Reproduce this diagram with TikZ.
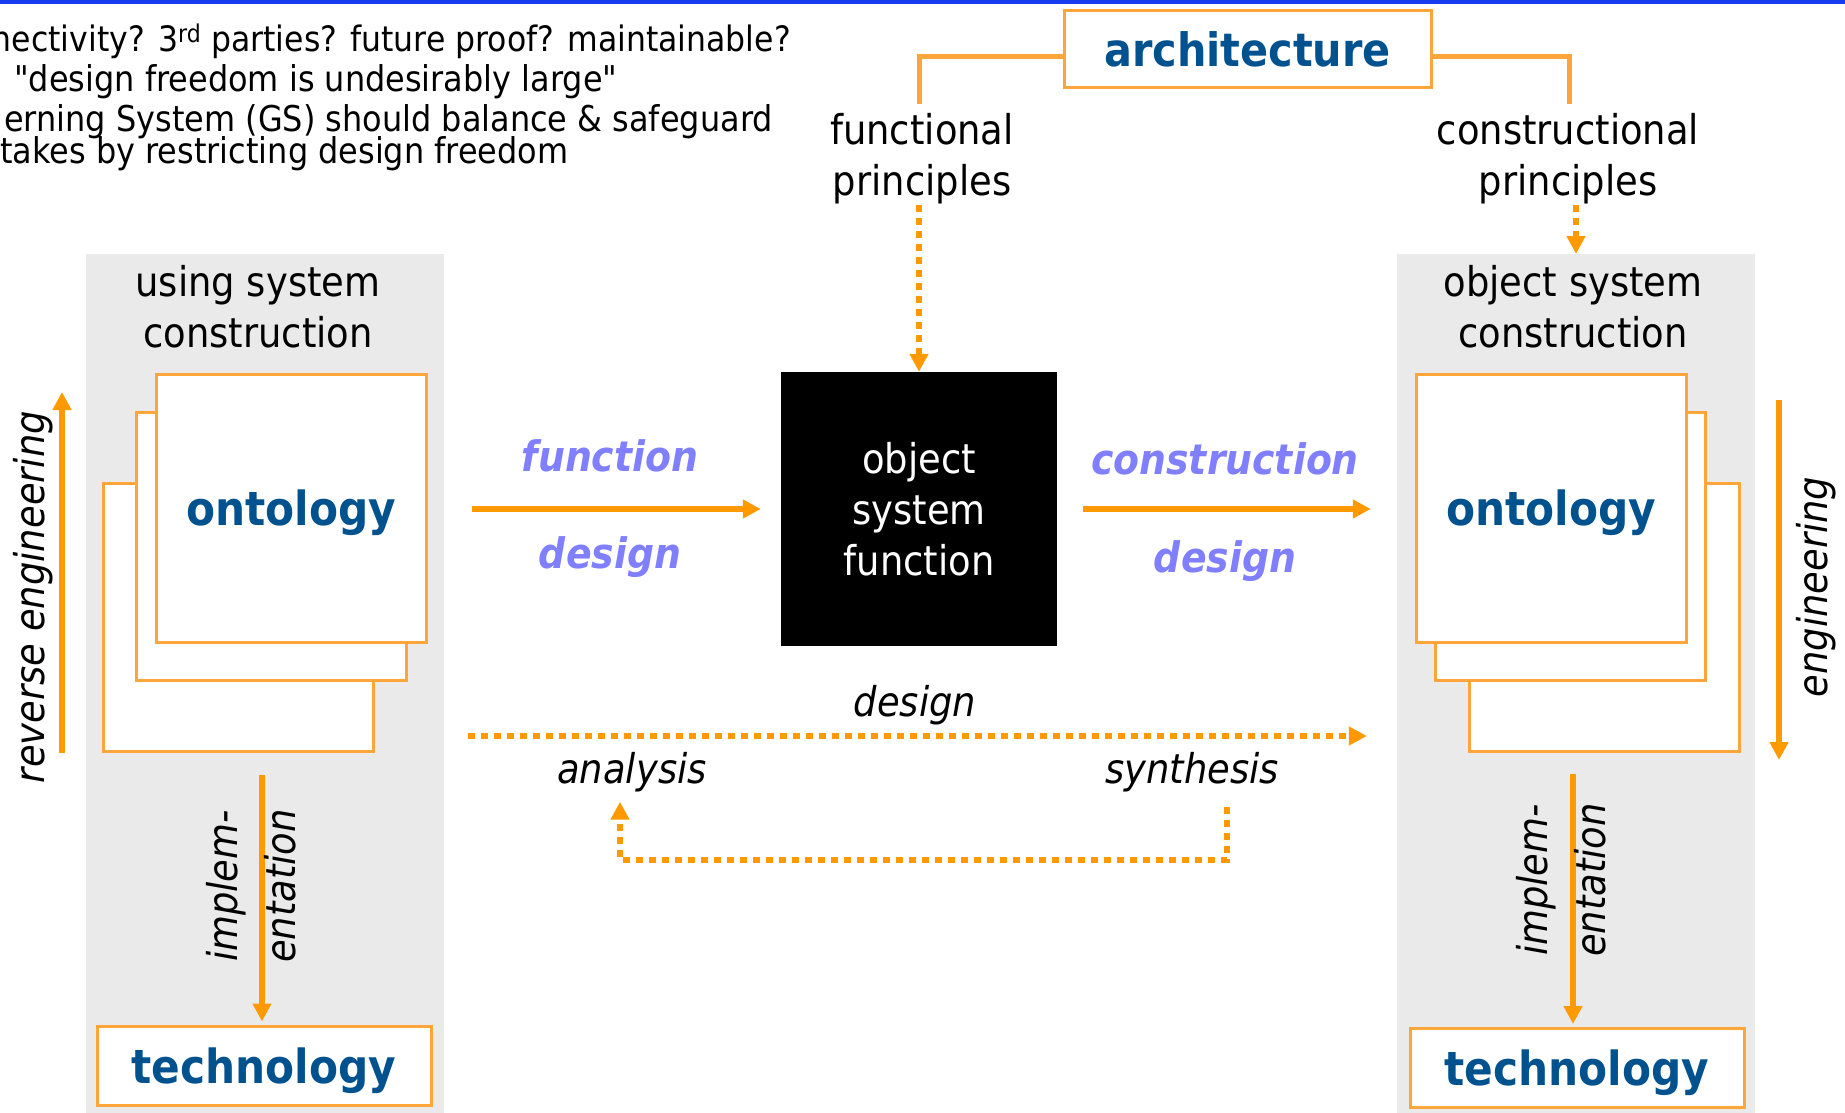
\documentclass[tikz,border=0pt]{standalone}
\usepackage{fontspec}
\setmainfont{DejaVu Sans}[FakeStretch=0.9, Ligatures=TeXOff]
\usetikzlibrary{arrows.meta}
\definecolor{orA}{HTML}{FF9900}
\definecolor{orB}{HTML}{FFA53A}
\definecolor{panelgray}{HTML}{EAEAEA}
\definecolor{dblue}{HTML}{00528F}
\definecolor{peri}{HTML}{7F7FFF}
\definecolor{topblue}{HTML}{1A3CF0}
\newcommand\fsz[2]{\fontsize{#1}{#2}\selectfont}
\begin{document}
\begin{tikzpicture}[x=1pt,y=-1pt,
  arr/.style={draw=orA, line width=6pt, -{Triangle[length=18pt,width=18pt]}},
  dotarr/.style={arr, dash pattern=on 7pt off 6pt},
  bracket/.style={draw=orB, line width=5pt},
  panel/.style={fill=panelgray, draw=none, inner sep=0pt, minimum width=358pt, minimum height=859pt, anchor=north},
  sheet/.style={draw=orB, fill=white, line width=3pt, inner sep=0pt, minimum width=270pt, minimum height=268pt},
  techbox/.style={draw=orB, fill=white, line width=3pt, inner sep=0pt, minimum width=334pt, minimum height=79pt},
  lbl/.style={font=\fsz{41}{51}, align=center, inner sep=0pt},
  bluetxt/.style={font=\fsz{47}{56}\bfseries, text=dblue, text depth=0pt},
  plbl/.style={font=\fsz{42}{50}\bfseries\itshape, text=peri, inner sep=0pt, anchor=base},
  ilbl/.style={font=\fsz{41}{51}\itshape, inner sep=0pt, anchor=base},
  rlbl/.style={font=\fsz{41}{58}\itshape, rotate=90, align=center, inner sep=0pt},
  toptxt/.style={font=\fsz{35.5}{40}, inner sep=0pt}
]
\useasboundingbox (0,0) rectangle (1845,1113);
\clip (0,0) rectangle (1845,1113);
\fill[topblue] (0,0) rectangle (1845,4);

% top-left text
\node[toptxt, font=\fsz{35}{40}, anchor=base east] (t1) at (791,52) {nectivity? 3\textsuperscript{rd} parties? future proof? maintainable?};
\node[toptxt, anchor=base west] (t2) at (14,92) {"design freedom is undesirably large"};
\node[toptxt, anchor=base east] (t3) at (773,132) {erning System (GS) should balance \& safeguard};
\node[toptxt, anchor=base west] (t4) at (0,164) {takes by restricting design freedom};

% panels
\node[panel] (lpanel) at (265,254) {};
\node[panel] (rpanel) at (1576,254) {};
\node[lbl] (ltitle) at (258,307) {using system\\construction};
\node[lbl] (rtitle) at (1573,307) {object system\\construction};

% sheets left
\node[sheet] (lback) at (238,617) {};
\node[sheet] (lmid) at (271,546) {};
\node[sheet, bluetxt] (lfront) at (291,508) {ontology};
% sheets right
\node[sheet] (rback) at (1604,617) {};
\node[sheet] (rmid) at (1570,546) {};
\node[sheet, bluetxt] (rfront) at (1551,508) {ontology};

% technology
\node[techbox, bluetxt] (ltech) at (264,1065.5) {technology};
\node[techbox, bluetxt] (rtech) at (1577,1068) {technology};

% architecture
\node[draw=orB, fill=white, line width=3pt, inner sep=0pt, minimum width=367pt, minimum height=77pt,
      font=\fsz{46}{50}\bfseries, text=dblue] (arch) at (1247.5,49.5) {architecture};
\node[lbl] (fp) at (922,159) {functional\\principles};
\node[lbl] (cp) at (1568,159) {constructional\\principles};
\coordinate (bk) at (0,57);
\coordinate (fpTop) at (919,104);
\coordinate (cpTop) at (1569,104);
\draw[bracket] (arch.west |- bk) -| (fpTop);
\draw[bracket] (arch.east |- bk) -| (cpTop);

% black box
\node[fill=black, text=white, font=\fsz{41}{51}, align=center, minimum width=276pt, minimum height=274pt, inner sep=0pt] (osf) at (919,509) {object\\system\\function};

\draw[dotarr] (osf.north |- fp.south) -- (osf.north);
\draw[dotarr] (rpanel.north |- cp.south) -- (rpanel.north);

% middle arrows
\draw[arr, shorten <=28pt, shorten >=20pt] (lpanel.east |- osf.west) -- (osf.west);
\draw[arr, shorten <=26pt, shorten >=26pt] (osf.east) -- (osf.east -| rpanel.west);
\node[plbl] (fn) at (610,471) {function};
\node[plbl] (fd) at (610,568) {design};
\node[plbl] (cn) at (1225,474) {construction};
\node[plbl] (cd) at (1225,572) {design};

% design dotted
\coordinate (dz) at (0,736);
\draw[dotarr, shorten <=24pt, shorten >=30pt] (lpanel.east |- dz) -- (rpanel.west |- dz);
\node[ilbl] (dl) at (915,716) {design};
\node[ilbl] (ana) at (632,783) {analysis};
\node[ilbl] (syn) at (1192,783) {synthesis};
\coordinate (fb) at (620,860);
\draw[dotarr, shorten <=15pt, shorten >=10pt] ([xshift=35pt]syn.south) |- (fb) -- (fb |- ana.south);

% reverse engineering / engineering
\coordinate (reB) at (62,753);
\coordinate (reT) at (62,392);
\draw[arr] (reB) -- (reT);
\node[rlbl] (ret) at (33,597) {reverse engineering};
\coordinate (enT) at (1779,400);
\coordinate (enB) at (1779,760);
\draw[arr] (enT) -- (enB);
\node[rlbl] (ent) at (1816,587) {engineering};

% implementation
\coordinate (liT) at (262,775);
\draw[arr, shorten >=3pt] (liT) -- (liT |- ltech.north);
\node[rlbl] (lim) at (251.5,886) {implem-\\entation};
\coordinate (riT) at (1573,774);
\draw[arr, shorten >=3pt] (riT) -- (riT |- rtech.north);
\node[rlbl] (rim) at (1561.5,880) {implem-\\entation};
\end{tikzpicture}
\end{document}
